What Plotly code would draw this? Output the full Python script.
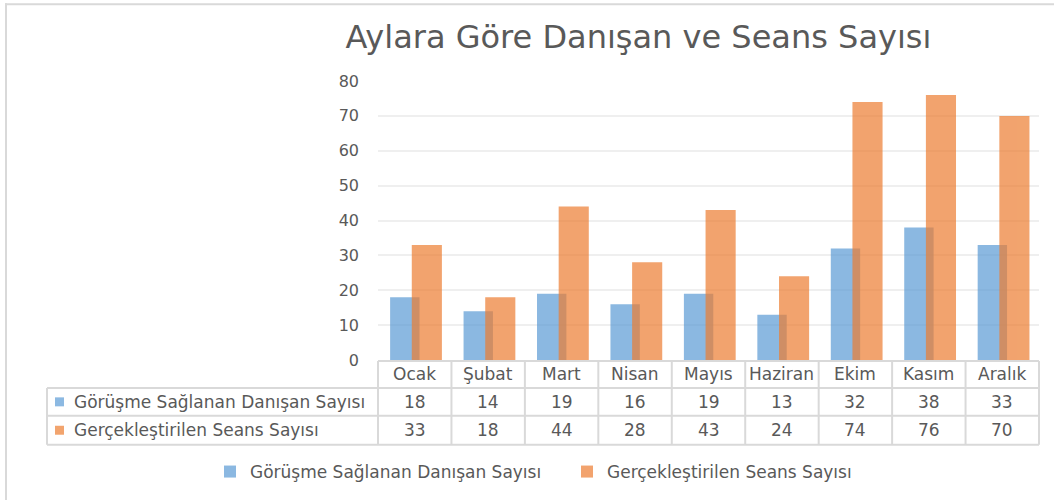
import plotly.graph_objects as go

months = ["Ocak", "Şubat", "Mart", "Nisan", "Mayıs", "Haziran", "Ekim", "Kasım", "Aralık"]
clients = [18, 14, 19, 16, 19, 13, 32, 38, 33]
sessions = [33, 18, 44, 28, 43, 24, 74, 76, 70]
series_names = ["Görüşme Sağlanan Danışan Sayısı", "Gerçekleştirilen Seans Sayısı"]
y_ticks = [0, 10, 20, 30, 40, 50, 60, 70, 80]
title_text = "Aylara Göre Danışan ve Seans Sayısı"

W, H = 1054, 500
L, R, T, B = 378, 1039, 81, 361


def px(x):
    return (x - L) / (R - L)


def py(y):
    return (B - y) / (B - T)


FONT = "DejaVu Sans"
GRAY = "#595959"
BORDER = "#d9d9d9"
BLUE = "#5B9BD5"
ORANGE = "#ED7D31"
OPA = 0.7

fig = go.Figure()
fig.add_trace(go.Bar(x=months, y=clients, name=series_names[0],
                     marker=dict(color=BLUE, line=dict(width=0)), opacity=OPA,
                     width=0.4, offset=-0.335, hoverinfo="skip"))
fig.add_trace(go.Bar(x=months, y=sessions, name=series_names[1],
                     marker=dict(color=ORANGE, line=dict(width=0)), opacity=OPA,
                     width=0.41, offset=-0.04, hoverinfo="skip"))

shapes = []
# outer frame
shapes.append(dict(type="line", xref="paper", yref="paper", x0=px(5), x1=px(W + 5), y0=py(4), y1=py(4),
                   line=dict(color=BORDER, width=2)))
shapes.append(dict(type="line", xref="paper", yref="paper", x0=px(6), x1=px(6), y0=py(3), y1=py(H + 5),
                   line=dict(color=BORDER, width=2)))
# table grid
row_lines = [362, 389, 417, 446]
shapes.append(dict(type="line", xref="paper", yref="paper", x0=0, x1=1, y0=py(row_lines[0]), y1=py(row_lines[0]),
                   line=dict(color=BORDER, width=2)))
for yl in row_lines[1:]:
    shapes.append(dict(type="line", xref="paper", yref="paper", x0=px(47), x1=1, y0=py(yl), y1=py(yl),
                       line=dict(color=BORDER, width=2)))
n = len(months)
for i in range(n + 1):
    shapes.append(dict(type="line", xref="paper", yref="paper", x0=i / n, x1=i / n,
                       y0=py(row_lines[0]), y1=py(row_lines[-1]), line=dict(color=BORDER, width=2)))
shapes.append(dict(type="line", xref="paper", yref="paper", x0=px(47), x1=px(47),
                   y0=py(row_lines[1]), y1=py(row_lines[-1]), line=dict(color=BORDER, width=2)))

annotations = []
row_centers = [375.5, 403, 431.5]
tfont = dict(family=FONT, size=17, color=GRAY)
for i, m in enumerate(months):
    annotations.append(dict(x=m, xref="x", y=py(row_centers[0]), yref="paper", text=m,
                            showarrow=False, font=tfont, xanchor="center", yanchor="middle"))
    annotations.append(dict(x=m, xref="x", y=py(row_centers[1]), yref="paper", text=str(clients[i]),
                            showarrow=False, font=tfont, xanchor="center", yanchor="middle"))
    annotations.append(dict(x=m, xref="x", y=py(row_centers[2]), yref="paper", text=str(sessions[i]),
                            showarrow=False, font=tfont, xanchor="center", yanchor="middle"))
for k, (name, col) in enumerate(zip(series_names, [BLUE, ORANGE])):
    yc = row_centers[k + 1]
    annotations.append(dict(x=px(72), xref="paper", y=py(yc), yref="paper", text=name,
                            showarrow=False, font=tfont, xanchor="left", yanchor="middle"))
    shapes.append(dict(type="rect", xref="paper", yref="paper", x0=px(55), x1=px(64),
                       y0=py(yc - 4.5), y1=py(yc + 4.5), fillcolor=col, opacity=OPA, line=dict(width=0)))

fig.update_layout(
    width=W, height=H, autosize=False,
    margin=dict(l=L, r=W - R, t=T, b=H - B, pad=0),
    paper_bgcolor="white", plot_bgcolor="white",
    barmode="overlay",
    title=dict(text=title_text, x=638.5 / W, xanchor="center", xref="container",
               y=1 - 37 / H, yanchor="middle", yref="container",
               font=dict(family=FONT, size=32, color=GRAY)),
    xaxis=dict(type="category", range=[-0.5, n - 0.5], showticklabels=False, showgrid=False,
               zeroline=False, showline=False, fixedrange=True),
    yaxis=dict(range=[0, 80], tickvals=y_ticks, showgrid=True, gridcolor="#efefef", gridwidth=1.5,
               zeroline=False, showline=False, ticks="", ticklabelstandoff=18,
               tickfont=dict(family=FONT, size=16, color=GRAY), fixedrange=True),
    legend=dict(orientation="h", xref="paper", yref="paper", x=px(210), xanchor="left",
                y=py(472), yanchor="middle", font=dict(family=FONT, size=17, color=GRAY),
                entrywidthmode="pixels", entrywidth=312, bgcolor="rgba(0,0,0,0)"),
    shapes=shapes, annotations=annotations,
)

fig.write_html("out.html", config={"displayModeBar": False},
               post_script="document.body.style.margin='0';document.body.style.overflow='hidden';")
